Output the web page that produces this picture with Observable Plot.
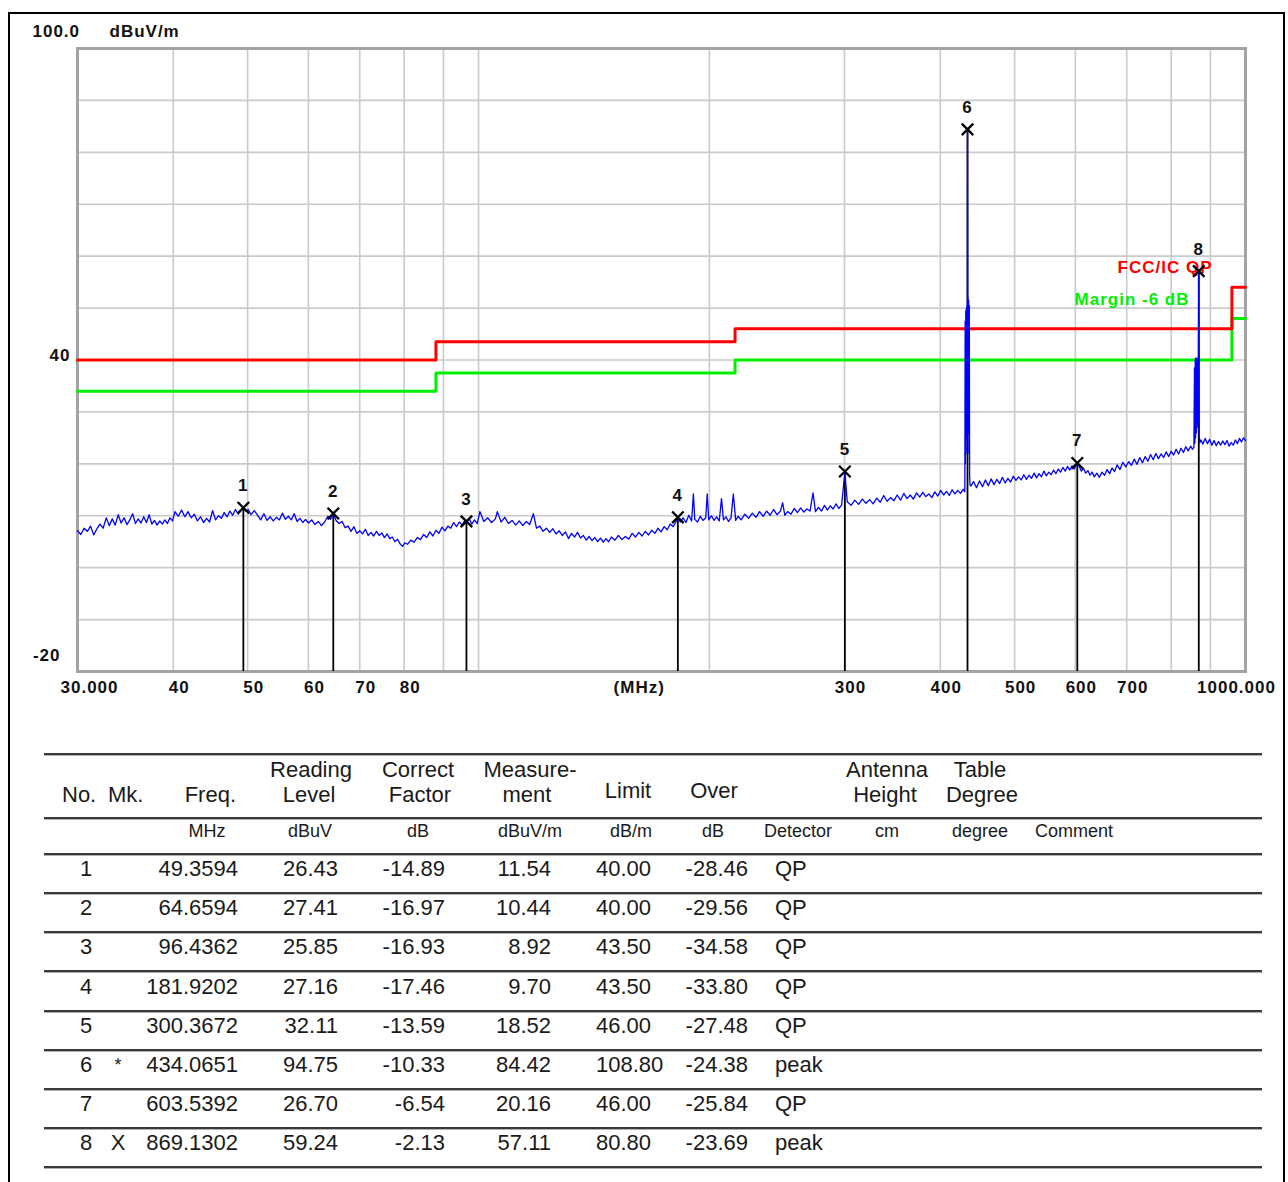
<!DOCTYPE html>
<html><head><meta charset="utf-8">
<script src="https://cdn.jsdelivr.net/npm/d3@7"></script>
<script src="https://cdn.jsdelivr.net/npm/@observablehq/plot@0.6"></script>
<style>
body{margin:0;background:#fff;}
#page{position:relative;width:1288px;height:1182px;overflow:hidden;background:#fff;}
#chart{position:absolute;left:0;top:0;}
#outer{position:absolute;left:8px;top:12px;width:1277px;height:1220px;border:2px solid #000;box-sizing:border-box;pointer-events:none;}
.t{position:absolute;font-family:"Liberation Sans",Arial,sans-serif;color:#1a1a1a;white-space:nowrap;line-height:1;}
.hl{position:absolute;left:44px;width:1218px;height:2px;background:#3a3a3a;box-shadow:0 1px 0 #b0b0b0;}
</style></head>
<body><div id="page"><div id="chart"></div><div id="table"></div><div id="outer"></div></div>
<script>
// ---- chart data: measured trace as [frequency MHz, level dBuV/m] ----
const tracePoints = [
[30.0,7.1],[30.3,6.4],[30.6,7.6],[30.9,7.0],[31.2,8.0],[31.5,6.3],[31.8,7.5],[32.1,8.4],[32.4,7.6],[32.7,9.6],
[33.0,8.1],[33.3,9.4],[33.6,8.2],[33.9,10.2],[34.2,8.6],[34.5,9.6],[34.8,8.3],[35.1,9.2],[35.4,10.4],[35.7,8.5],
[36.0,9.4],[36.3,8.6],[36.6,9.8],[36.9,8.7],[37.2,10.2],[37.5,8.4],[37.8,9.1],[38.1,8.2],[38.4,9.0],[38.7,8.4],
[39.0,9.2],[39.3,8.5],[39.6,9.6],[39.9,9.0],
[40.2,10.8],[40.6,9.9],[41.0,11.1],[41.4,9.8],[41.8,10.8],[42.2,9.6],[42.6,10.3],[43.0,9.0],[43.4,9.8],[43.8,8.7],
[44.2,9.5],[44.6,8.8],[45.0,11.0],[45.4,9.2],[45.8,10.0],[46.2,9.5],[46.6,10.6],[47.0,9.8],[47.4,10.9],[47.8,10.1],
[48.2,11.2],[48.6,10.3],[49.0,11.0],[49.3594,11.54],[49.7,10.9],[50.1,11.2],
[50.5,10.2],[51.0,11.0],[51.5,10.1],[52.0,9.2],[52.5,10.4],[53.0,9.1],[53.5,9.8],[54.0,9.0],[54.5,9.7],[55.0,9.2],
[55.5,10.5],[56.0,9.3],[56.5,9.9],[57.0,9.2],[57.5,10.4],[58.0,8.9],[58.5,9.5],[59.0,8.7],[59.5,9.3],
[60.0,8.6],[60.6,9.2],[61.2,8.3],[61.8,8.9],[62.4,8.1],[63.0,8.8],[63.6,9.9],[64.1,9.3],[64.6594,10.44],[65.2,9.1],
[65.8,8.5],[66.4,8.9],[67.0,7.7],[67.6,8.0],[68.2,7.0],[68.8,7.9],[69.4,6.6],[70.0,7.1],[70.6,6.5],[71.2,7.4],
[71.8,6.2],[72.4,6.8],[73.0,6.1],[73.6,7.0],[74.2,6.2],[74.8,6.7],[75.4,5.8],[76.0,6.5],[76.6,5.6],[77.2,5.9],
[77.8,5.0],[78.4,5.5],[79.0,4.6],[79.6,4.1],[80.2,4.8],
[80.8,4.5],[81.6,5.3],[82.4,4.9],[83.2,5.8],[84.0,5.4],[84.8,6.4],[85.6,5.8],[86.4,6.9],[87.2,6.1],[88.0,7.2],
[88.8,6.6],[89.6,7.8],[90.4,7.1],[91.2,8.0],[92.0,7.6],[92.8,8.7],[93.6,7.9],[94.4,8.8],[95.2,8.2],[96.0,9.1],
[96.4362,8.92],[97.2,9.5],[98.0,8.4],[98.8,9.2],[99.6,8.5],
[100.4,10.8],[101.6,8.9],[102.8,9.6],[104.0,8.7],[105.2,9.4],[105.8,10.8],[107.0,8.8],[108.2,9.7],[109.4,8.5],[110.6,9.1],
[111.8,8.2],[113.0,9.0],[114.2,8.1],[115.4,8.9],[116.6,8.3],[117.9,10.4],[119.0,7.6],[120.2,8.0],[121.4,7.0],[122.6,7.6],
[123.8,6.8],[125.0,7.5],[126.2,6.5],[127.4,7.1],[128.6,6.2],[129.8,6.9],[131.0,5.6],[132.2,6.6],[133.4,5.9],[134.6,6.8],
[135.8,5.7],[137.0,6.2],[138.2,5.3],[139.4,6.0],[140.6,5.2],[141.8,5.8],[143.0,5.0],[144.2,5.7],[145.4,4.9],[146.6,5.6],
[147.8,5.0],[149.0,5.9],
[150.6,5.3],[152.2,6.2],[153.8,5.4],[155.4,6.0],[157.0,5.5],[158.6,6.6],[160.2,5.9],[161.8,6.8],[163.4,6.1],[165.0,7.0],
[166.6,6.3],[168.2,7.2],[169.8,6.6],[171.4,7.6],[173.0,6.9],[174.6,7.9],[176.2,7.3],[177.8,8.4],[179.4,7.9],[181.0,8.9],
[181.9202,9.70],[183.2,8.8],[184.8,9.6],[186.4,8.7],[188.0,10.1],[189.6,9.0],[190.6,14.2],[191.4,9.3],[193.0,8.8],[194.6,9.9],
[196.2,9.1],[197.8,9.6],[198.7,14.2],[199.6,9.2],
[201.2,10.0],[202.8,9.1],[204.4,9.8],[206.0,9.0],[207.4,13.3],[208.6,9.2],[210.2,9.8],[211.8,8.9],[213.4,9.6],[214.9,14.2],
[216.4,9.1],[218.0,9.9],[220.0,9.2],[222.5,10.3],[225.0,9.5],[227.5,10.5],[230.0,9.7],[232.5,10.8],[235.0,9.9],[237.5,10.9],
[240.0,10.1],[242.5,11.2],[245.0,10.2],[247.5,10.9],[249.2,12.5],[250.8,10.1],[253.0,10.8],[255.5,10.3],[258.0,11.4],[260.5,10.6],
[263.0,11.5],[265.5,10.7],[268.0,11.3],[270.5,10.9],[273.0,14.4],[275.0,10.8],[277.5,11.6],[280.0,10.9],[282.5,12.0],[285.0,11.1],
[287.5,11.9],[290.0,11.3],[292.5,12.3],[295.0,11.4],[297.5,12.1],
[300.3672,18.52],[302.5,12.7],[306.0,12.0],[309.5,13.0],[313.0,12.2],[316.5,13.2],[320.0,12.4],[323.5,13.1],[327.0,12.3],[330.5,13.4],
[334.0,12.6],[337.5,13.9],[341.0,12.8],[344.5,13.5],[348.0,12.9],[351.5,14.0],[355.0,13.0],[358.5,14.3],[362.0,13.3],[365.5,14.0],
[369.0,13.2],[372.5,14.4],[376.0,13.6],[379.5,14.5],[383.0,13.7],[386.5,14.2],[390.0,13.5],[393.5,14.6],[397.0,13.8],[400.5,14.9],
[404.0,14.0],[407.5,14.7],[411.0,13.9],[414.5,15.0],[418.0,14.2],[421.5,14.9],[425.0,14.3],[428.5,15.1],
[430.6,14.6],[431.0,47.5],[431.4,20],[431.8,49.5],[432.2,22],[432.6,50.0],[433.0,25],[433.4,50.4],[433.8,30],[434.0651,84.42],
[434.4,32],[434.8,52.0],[435.2,26],[435.6,51.5],[436.0,22],[436.4,50.5],[436.8,18],[437.3,16.0],
[438.5,15.7],[442.0,16.6],[446.0,15.4],[450.0,16.7],[454.0,15.6],[458.0,16.9],[462.0,15.8],[466.0,17.1],[470.0,16.0],[474.0,17.0],
[478.0,16.2],[482.0,17.4],[486.0,16.3],[490.0,17.2],[494.0,16.5],[498.0,17.6],[502.0,16.8],[506.0,17.5],[510.0,16.9],[514.0,17.9],
[518.0,17.0],[522.0,17.8],[526.0,17.2],[530.0,18.2],[534.0,17.3],[538.0,18.1],[542.0,17.5],[546.0,18.6],[550.0,17.7],[554.0,18.4],
[558.0,17.9],[562.0,18.8],[566.0,18.1],[570.0,19.0],[574.0,18.4],[578.0,19.3],[582.0,18.6],[586.0,19.5],[590.0,18.8],[594.0,19.6],
[598.0,19.0],[603.5392,20.16],
[607.0,19.5],[611.0,18.6],[615.0,19.1],[619.0,18.2],[623.0,18.7],[627.0,17.8],[631.0,18.4],[635.0,17.5],[640.0,18.2],[645.0,17.4],
[650.0,18.4],[655.0,17.8],[660.0,18.9],[665.0,18.1],[670.0,19.2],[675.0,18.5],[680.0,19.8],[686.0,18.9],[692.0,20.3],[698.0,19.4],
[704.0,20.4],[710.0,19.7],[716.0,20.9],[722.0,19.9],[728.0,21.2],[734.0,20.2],[740.0,21.4],[746.0,20.5],[752.0,21.8],[758.0,20.8],
[764.0,22.0],[770.0,21.0],[776.0,21.9],[782.0,21.2],[788.0,22.3],[794.0,21.4],[800.0,22.4],[806.0,21.7],[812.0,22.8],[818.0,21.9],
[824.0,23.0],[830.0,22.2],[836.0,23.3],[842.0,22.5],[848.0,23.4],[853.0,22.8],
[856.5,23.2],[858.0,38.5],[859.0,24],[860.0,40.2],[861.0,25],[862.0,40.4],[863.0,26],[864.0,40.3],[865.0,27],[866.0,40.1],
[867.0,28],[868.0,40.0],[869.1302,57.11],[870.2,26],[871.5,24.0],
[875.0,24.6],[880.0,23.8],[886.0,24.9],[892.0,23.9],[898.0,24.7],[904.0,23.6],[910.0,24.5],[916.0,23.5],[922.0,24.3],[928.0,23.6],
[934.0,24.4],[940.0,23.7],[946.0,24.5],[952.0,23.4],[958.0,24.1],[964.0,23.6],[970.0,24.6],[976.0,23.9],[982.0,24.9],[988.0,24.2],
[994.0,25.0],[1000.0,24.5]
];

const limitFreq   = [30, 88, 216, 960, 1000];
const fccLevel    = [40, 43.5, 46, 54, 54];
const marginLevel = [34, 37.5, 40, 48, 48];
const limitLabelText  = ["FCC/IC QP", "Margin -6 dB"];
const limitLabelLevel = [57.9, 51.7];

const markerNo    = [1, 2, 3, 4, 5, 6, 7, 8];
const markerMk    = ["", "", "", "", "", "*", "", "X"];
const markerFreq  = [49.3594, 64.6594, 96.4362, 181.9202, 300.3672, 434.0651, 603.5392, 869.1302];
const markerLevel = [11.54, 10.44, 8.92, 9.70, 18.52, 84.42, 20.16, 57.11];
const readingLevel  = [26.43, 27.41, 25.85, 27.16, 32.11, 94.75, 26.70, 59.24];
const correctFactor = [-14.89, -16.97, -16.93, -17.46, -13.59, -10.33, -6.54, -2.13];
const limitValue    = [40.00, 40.00, 43.50, 43.50, 46.00, 108.80, 46.00, 80.80];
const overValue     = [-28.46, -29.56, -34.58, -33.80, -27.48, -24.38, -25.84, -23.69];
const detectorType  = ["QP", "QP", "QP", "QP", "QP", "peak", "QP", "peak"];

const xGrid = [40, 50, 60, 70, 80, 90, 100, 200, 300, 400, 500, 600, 700, 800, 900];
const yGrid = [-10, 0, 10, 20, 30, 40, 50, 60, 70, 80, 90];
const xTickValues = [40, 50, 60, 70, 80, 300, 400, 500, 600, 700];
const xTickLabels = ["40", "50", "60", "70", "80", "300", "400", "500", "600", "700"];
const xEndValues = [30, 1000];
const xEndLabels = ["30.000", "1000.000"];
const xUnitText = "(MHz)";
const xUnitFreq = 162;
const yTopText = "100.0";
const yUnitText = "dBuV/m";
const yMidText = "40";
const yBottomText = "-20";

// ---- build ----
const FONT = '"Liberation Sans", Arial, sans-serif';
const trace = tracePoints.map(([f, v]) => ({f, v}));
const limits = limitFreq.map((f, i) => ({f, fcc: fccLevel[i], margin: marginLevel[i]}));
const markers = markerNo.map((n, i) => ({n, f: markerFreq[i], v: markerLevel[i]}));
const lblStyle = {fontFamily: FONT, fontWeight: "bold", fontSize: 17, fill: "#111"};
const xLbl = {frameAnchor: "bottom", lineAnchor: "middle", dy: 16, ...lblStyle};

const chart = Plot.plot({
  width: 1288, height: 720,
  marginLeft: 77, marginRight: 43, marginTop: 48, marginBottom: 49,
  x: {type: "log", domain: [30, 1000], axis: null},
  y: {domain: [-20, 100], axis: null},
  style: {background: "transparent", overflow: "visible", letterSpacing: "1px", fontFamily: FONT},
  marks: [
    Plot.ruleX(xGrid, {stroke: "#cacaca", strokeWidth: 1.6}),
    Plot.ruleY(yGrid, {stroke: "#cacaca", strokeWidth: 1.6}),
    Plot.frame({stroke: "#a3a3a3", strokeWidth: 3}),
    Plot.line(limits, {x: "f", y: "margin", curve: "step-after", stroke: "#00f000", strokeWidth: 3}),
    Plot.line(limits, {x: "f", y: "fcc", curve: "step-after", stroke: "#ff0000", strokeWidth: 3}),
    Plot.ruleX(markers, {x: "f", y1: -20, y2: "v", stroke: "#000", strokeWidth: 1.8}),
    Plot.line(trace, {x: "f", y: "v", stroke: "#0000ff", strokeWidth: 1.3}),
    Plot.text([limitLabelText[0]], {frameAnchor: "right", y: limitLabelLevel[0], dx: -33, textAnchor: "end", fill: "#ff0000", fontWeight: "bold", fontSize: 17, fontFamily: FONT}),
    Plot.text([limitLabelText[1]], {frameAnchor: "right", y: limitLabelLevel[1], dx: -56, textAnchor: "end", fill: "#00f000", fontWeight: "bold", fontSize: 17, fontFamily: FONT}),
    Plot.dot(markers, {x: "f", y: "v", symbol: "times", r: 5.3, stroke: "#000", strokeWidth: 2.3}),
    Plot.text(markers, {x: "f", y: "v", text: d => String(d.n), dy: -22, ...lblStyle}),
    // x tick labels
    Plot.text(xTickLabels, {x: (d, i) => xTickValues[i], dx: 6, ...xLbl}),
    Plot.text([xEndLabels[0]], {x: xEndValues[0], dx: 12, ...xLbl}),
    Plot.text([xEndLabels[1]], {x: xEndValues[1], dx: -9, ...xLbl}),
    Plot.text([xUnitText], {x: xUnitFreq, ...xLbl}),
    // y labels
    Plot.text([yTopText], {y: 100, frameAnchor: "left", textAnchor: "start", dx: -45, dy: -16.5, ...lblStyle}),
    Plot.text([yUnitText], {y: 100, frameAnchor: "left", textAnchor: "start", dx: 32, dy: -16.5, ...lblStyle}),
    Plot.text([yMidText], {y: 40, frameAnchor: "left", textAnchor: "end", dx: -7, dy: -4, ...lblStyle}),
    Plot.text([yBottomText], {y: -20, frameAnchor: "left", textAnchor: "end", dx: -17, dy: -16, ...lblStyle})
  ]
});
document.getElementById("chart").appendChild(chart);

// ---- table ----
const tbl = document.getElementById("table");
function put(text, x, y, anchor, size) {
  const s = document.createElement("div");
  s.className = "t";
  s.textContent = text;
  s.style.left = x + "px";
  s.style.top = y + "px";
  s.style.fontSize = size + "px";
  const tx = anchor === "end" ? "-100%" : anchor === "middle" ? "-50%" : "0";
  s.style.transform = `translate(${tx}, -50%)`;
  tbl.appendChild(s);
}
function hline(y) {
  const d = document.createElement("div");
  d.className = "hl";
  d.style.top = y + "px";
  tbl.appendChild(d);
}
const HS = 22, US = 18, DS = 22;
[753, 817, 853].forEach(hline);
put("No.", 62, 795, "start", HS);
put("Mk.", 108, 795, "start", HS);
put("Freq.", 236, 795, "end", HS);
put("Reading", 311, 770, "middle", HS); put("Level", 309, 795, "middle", HS);
put("Correct", 418, 770, "middle", HS); put("Factor", 420, 795, "middle", HS);
put("Measure-", 530, 770, "middle", HS); put("ment", 527, 795, "middle", HS);
put("Limit", 628, 791, "middle", HS);
put("Over", 714, 791, "middle", HS);
put("Antenna", 887, 770, "middle", HS); put("Height", 885, 795, "middle", HS);
put("Table", 980, 770, "middle", HS); put("Degree", 982, 795, "middle", HS);
const units = [["MHz", 207], ["dBuV", 310], ["dB", 418], ["dBuV/m", 530], ["dB/m", 631], ["dB", 713], ["Detector", 798], ["cm", 887], ["degree", 980], ["Comment", 1074]];
units.forEach(([t, x]) => put(t, x, 831, "middle", US));
markerNo.forEach((n, i) => {
  const y = 869 + i * 39.2;
  put(String(n), 86, y, "middle", DS);
  if (markerMk[i]) put(markerMk[i], 118, y, "middle", markerMk[i] === "*" ? 18 : DS);
  put(markerFreq[i].toFixed(4), 238, y, "end", DS);
  put(readingLevel[i].toFixed(2), 338, y, "end", DS);
  put(correctFactor[i].toFixed(2), 445, y, "end", DS);
  put(markerLevel[i].toFixed(2), 551, y, "end", DS);
  put(limitValue[i].toFixed(2), 596, y, "start", DS);
  put(overValue[i].toFixed(2), 748, y, "end", DS);
  put(detectorType[i], 775, y, "start", DS);
  hline(892 + i * 39.2);
});
</script></body></html>
